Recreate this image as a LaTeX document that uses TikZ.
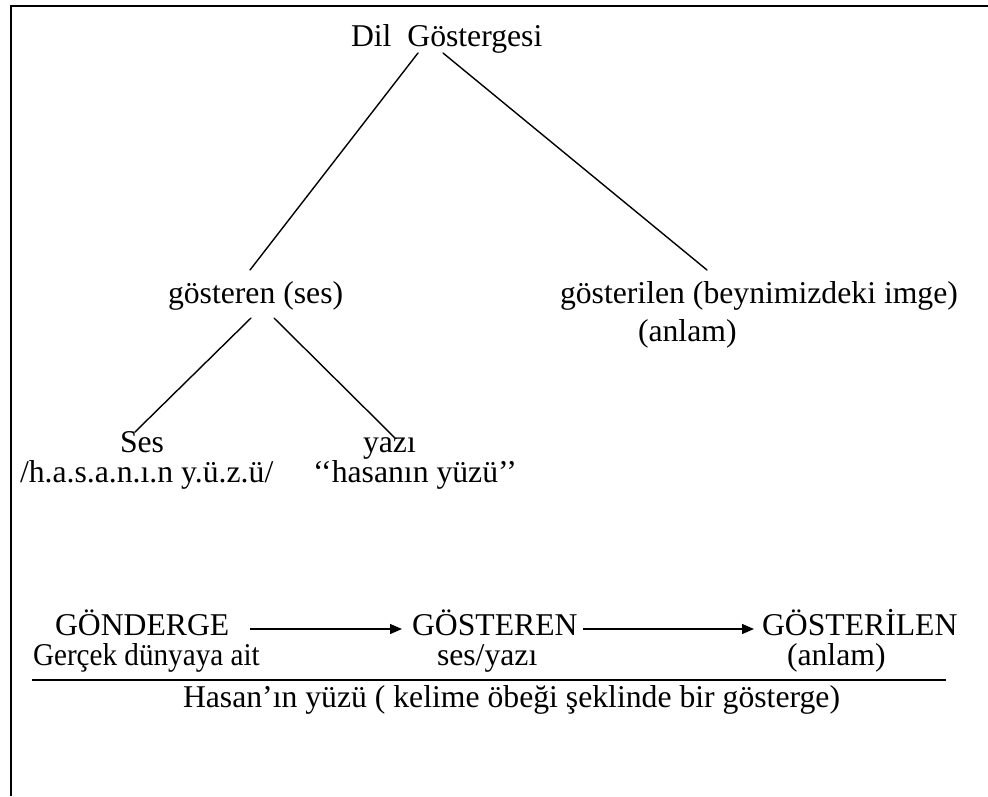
\documentclass[tikz,border=0pt]{standalone}
\usepackage{fontspec}
\setmainfont{Liberation Serif}
\newfontfamily\narrowserif[FakeStretch=0.92]{Liberation Serif}
\usetikzlibrary{arrows.meta}
\tikzset{
  lbl/.style={inner sep=0pt, outer sep=0pt, anchor=base west,
              font=\fontsize{31.7}{38}\selectfont},
  link/.style={line width=1.4pt, line cap=round},
  flow/.style={line width=1.4pt, -{Triangle[length=12pt,width=10pt]}},
  frame/.style={line width=2.2pt}
}
\begin{document}
\begin{tikzpicture}[x=1pt,y=-1pt]
\useasboundingbox (0,0) rectangle (988,796);

% page frame (only the left and top edges)
\draw[line width=1.6pt] (11,796) -- (11,6);
\draw[frame] (10,6) -- (988,6);

% tree labels
\node[lbl] (dil) at (351,46) {Dil\ \ Göstergesi};
\node[lbl] (gosteren) at (168,303) {gösteren (ses)};
\node[lbl] (gosterilen) at (560,303) {gösterilen (beynimizdeki imge)};
\node[lbl] (anlamA) at (638,341) {(anlam)};
\node[lbl] (ses) at (120,452) {Ses};
\node[lbl] (yazi) at (363,452) {yazı};
\node[lbl] (sesT) at (20,482) {/h.a.s.a.n.ı.n y.ü.z.ü/};
\node[lbl] (yaziT) at (313,482) {‘‘hasanın yüzü’’};

% branch end points
\coordinate (dilL) at (418,53);
\coordinate (dilR) at (443,53);
\coordinate (gosterenTop) at (250,270);
\coordinate (gosterilenTop) at (707,270);
\coordinate (gosterenL) at (251,318);
\coordinate (gosterenR) at (274,318);
\coordinate (sesTop) at (135,432);
\coordinate (yaziTop) at (395,438);

\draw[link] (dilL) -- (gosterenTop);
\draw[link] (dilR) -- (gosterilenTop);
\draw[link] (gosterenL) -- (sesTop);
\draw[link] (gosterenR) -- (yaziTop);

% chain: referent -> signifier -> signified
\node[lbl] (gonderge) at (55,635) {GÖNDERGE};
\node[lbl] (gosterenB) at (412,635) {GÖSTEREN};
\node[lbl] (gosterilenB) at (762,635) {GÖSTERİLEN};
\node[lbl] (gercek) at (33,665) {\narrowserif Gerçek dünyaya ait};
\node[lbl] (sesyazi) at (437,665) {ses/yazı};
\node[lbl] (anlamB) at (787,665) {(anlam)};

\coordinate (a1s) at (250,629);
\coordinate (a1e) at (402,629);
\coordinate (a2s) at (583,629);
\coordinate (a2e) at (754,629);
\draw[flow] (a1s) -- (a1e);
\draw[flow] (a2s) -- (a2e);

\coordinate (ulL) at (32,680);
\coordinate (ulR) at (946,680);
\draw[line width=1.4pt] (ulL) -- (ulR);

\node[lbl] (hasan) at (183,707) {Hasan’ın yüzü ( kelime öbeği şeklinde bir gösterge)};
\end{tikzpicture}
\end{document}
